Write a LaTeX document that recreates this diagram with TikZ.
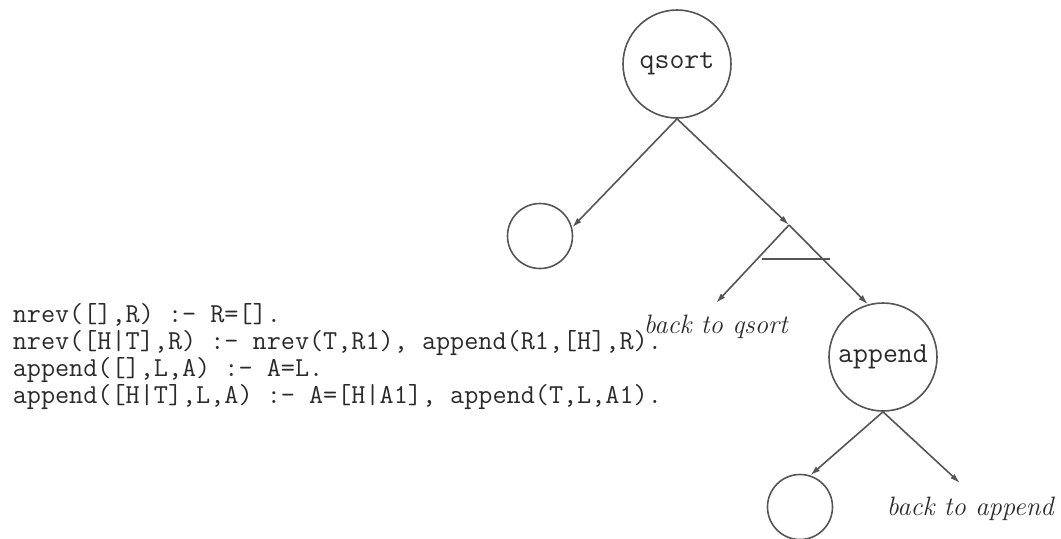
\documentclass[tikz,border=0pt]{standalone}
\usetikzlibrary{arrows.meta}
\definecolor{Wire}{HTML}{555555}
\definecolor{Lettering}{HTML}{2A2A2A}

\begin{document}
\begin{tikzpicture}[x=0.5pt,y=-0.5pt,line width=0.8pt,
  goal/.style={circle,draw=Wire,minimum size=54pt,inner sep=0pt,text=Lettering,font=\fontsize{14.5}{12.5}\selectfont\ttfamily},
  leaf/.style={circle,draw=Wire,minimum size=32.5pt,inner sep=0pt},
  arr/.style={draw=Wire,-{Latex[length=5pt,width=3pt]}},
  back/.style={text=Lettering,inner sep=0pt,font=\fontsize{13.3}{14}\selectfont\itshape}]
\useasboundingbox (0,0) rectangle (1061,538);
\node[goal] (qsort) at (677,64) {qsort};
\node[leaf] (qleaf) at (540,236) {};
\node[goal] (append) at (883,357) {append};
\node[leaf] (aleaf) at (800,507) {};
\coordinate (apex) at (789,225);
\coordinate (barl) at (762,259);\coordinate (barr) at (830,259);
\coordinate (qtip) at (716,303);\coordinate (atip) at (960,483);
\node[back,anchor=base west] (backq) at (643,333) {back to qsort};
\node[back,anchor=base west] (backa) at (886,515) {back to append};
\draw[arr] (qsort.south)--(qleaf.15);
\draw[arr] (qsort.south)--(apex);
\draw[arr] (apex)--(append.106);
\draw[arr] (apex)--(qtip);
\draw[Wire] (barl)--(barr);
\draw[arr] (append.south)--(aleaf.72);
\draw[arr] (append.south)--(atip);
% the program
\node[anchor=base west,align=left,inner sep=0pt,text=Lettering,
  font=\fontsize{13.7}{13.5}\selectfont\ttfamily] (prog) at (12,403)
  {nrev([],R) :- R=[].\\
   nrev([H|T],R) :- nrev(T,R1), append(R1,[H],R).\\
   append([],L,A) :- A=L.\\
   append([H|T],L,A) :- A=[H|A1], append(T,L,A1).};
\end{tikzpicture}
\end{document}
